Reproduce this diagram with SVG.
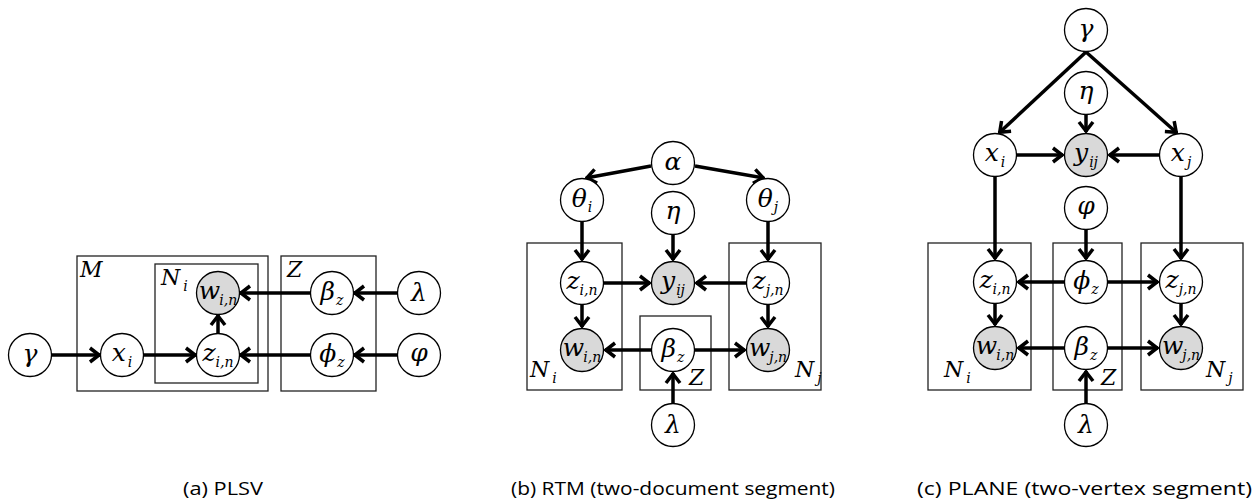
<svg xmlns="http://www.w3.org/2000/svg" width="1255" height="500" viewBox="0 0 1255 500">
<style>
.n{fill:#fff;stroke:#000;stroke-width:1.3}
.o{fill:#d9d9d9;stroke:#000;stroke-width:1.3}
.p{fill:none;stroke:#222;stroke-width:1.3}
.m{font-family:'DejaVu Serif',serif;font-style:italic;font-size:25px;fill:#000;text-anchor:middle}
.l{font-family:'DejaVu Serif',serif;font-style:italic;font-size:22px;fill:#000}
.s{font-size:14px}
.c{font-family:'Open Sans','Liberation Sans',sans-serif;font-size:18px;fill:#000}
.e{stroke:#000;stroke-width:3.5;fill:none;marker-end:url(#ah)}
</style>
<defs>
<marker id="ah" markerUnits="userSpaceOnUse" markerWidth="14" markerHeight="20" viewBox="-12 -10 14 20" refX="1" refY="0" orient="auto">
<path d="M-9,-7 L0,0 L-9,7" fill="none" stroke="#000" stroke-width="3.5"/>
</marker>
</defs>

<g id="plates">
<rect class="p" x="77" y="256" width="191" height="135"/>
<rect class="p" x="155" y="264" width="103" height="119"/>
<rect class="p" x="281" y="256" width="95" height="135"/>
<rect class="p" x="527" y="243" width="95" height="147"/>
<rect class="p" x="640" y="316" width="71" height="74"/>
<rect class="p" x="729" y="243" width="92" height="147"/>
<rect class="p" x="928" y="243" width="103" height="147"/>
<rect class="p" x="1053" y="243" width="69" height="147"/>
<rect class="p" x="1141" y="243" width="102" height="147"/>
<text class="l" x="80" y="277">M</text>
<text class="l" x="161" y="285">N<tspan class="s" dx="3" dy="6">i</tspan></text>
<text class="l" x="287" y="277">Z</text>
<text class="l" x="530" y="377">N<tspan class="s" dx="3" dy="6">i</tspan></text>
<text class="l" x="689" y="385">Z</text>
<text class="l" x="795" y="377">N<tspan class="s" dx="3" dy="6">j</tspan></text>
<text class="l" x="944" y="377">N<tspan class="s" dx="3" dy="6">i</tspan></text>
<text class="l" x="1101" y="385">Z</text>
<text class="l" x="1206" y="377">N<tspan class="s" dx="3" dy="6">j</tspan></text>
</g>

<g id="connectors">
<line class="e" x1="51" y1="355" x2="100" y2="355"/>
<line class="e" x1="143" y1="355" x2="196" y2="355"/>
<line class="e" x1="218" y1="334" x2="218" y2="315"/>
<line class="e" x1="311" y1="293" x2="240" y2="293"/>
<line class="e" x1="398" y1="293" x2="354" y2="293"/>
<line class="e" x1="311" y1="355" x2="240" y2="355"/>
<line class="e" x1="398" y1="355" x2="354" y2="355"/>

<line class="e" x1="651" y1="166" x2="586" y2="178"/>
<line class="e" x1="695" y1="166" x2="764" y2="178"/>
<line class="e" x1="582" y1="222" x2="582" y2="260"/>
<line class="e" x1="768" y1="222" x2="768" y2="260"/>
<line class="e" x1="673" y1="235" x2="673" y2="260"/>
<line class="e" x1="604" y1="283" x2="650" y2="283"/>
<line class="e" x1="746" y1="283" x2="696" y2="283"/>
<line class="e" x1="582" y1="305" x2="582" y2="327"/>
<line class="e" x1="768" y1="305" x2="768" y2="327"/>
<line class="e" x1="651" y1="350" x2="605" y2="350"/>
<line class="e" x1="695" y1="350" x2="745" y2="350"/>
<line class="e" x1="673" y1="403" x2="673" y2="373"/>

<line class="e" x1="1086" y1="52" x2="999" y2="133"/>
<line class="e" x1="1086" y1="52" x2="1177" y2="133"/>
<line class="e" x1="1086" y1="115" x2="1086" y2="132"/>
<line class="e" x1="1017" y1="155" x2="1063" y2="155"/>
<line class="e" x1="1159" y1="155" x2="1109" y2="155"/>
<line class="e" x1="995" y1="177" x2="995" y2="259"/>
<line class="e" x1="1181" y1="177" x2="1181" y2="259"/>
<line class="e" x1="1086" y1="230" x2="1086" y2="259"/>
<line class="e" x1="1064" y1="282" x2="1018" y2="282"/>
<line class="e" x1="1108" y1="282" x2="1158" y2="282"/>
<line class="e" x1="995" y1="304" x2="995" y2="325"/>
<line class="e" x1="1181" y1="304" x2="1181" y2="325"/>
<line class="e" x1="1064" y1="348" x2="1018" y2="348"/>
<line class="e" x1="1108" y1="348" x2="1158" y2="348"/>
<line class="e" x1="1086" y1="403" x2="1086" y2="371"/>
</g>

<g id="a-gamma"><circle class="n" cx="30" cy="355" r="21.5"/><text class="m" x="30" y="362">γ</text></g>
<g id="a-x"><circle class="n" cx="122" cy="355" r="21.5"/><text class="m" x="122" y="361">x<tspan class="s" dx="2" dy="6">i</tspan></text></g>
<g id="a-z"><circle class="n" cx="218" cy="355" r="21.5"/><text class="m" x="218" y="361">z<tspan class="s" dy="6">i,n</tspan></text></g>
<g id="a-w"><circle class="o" cx="218" cy="293" r="21.5"/><text class="m" x="218" y="299">w<tspan class="s" dx="-1" dy="6">i,n</tspan></text></g>
<g id="a-beta"><circle class="n" cx="332" cy="293" r="21.5"/><text class="m" x="332" y="300">β<tspan class="s" dx="1" dy="5">z</tspan></text></g>
<g id="a-phiz"><circle class="n" cx="332" cy="355" r="21.5"/><text class="m" x="332" y="362">ϕ<tspan class="s" dx="1" dy="5">z</tspan></text></g>
<g id="a-lambda"><circle class="n" cx="419" cy="293" r="21.5"/><text class="m" x="419" y="301">λ</text></g>
<g id="a-varphi"><circle class="n" cx="419" cy="355" r="21.5"/><text class="m" x="419" y="361">φ</text></g>

<g id="b-alpha"><circle class="n" cx="673" cy="163" r="21.5"/><text class="m" x="673" y="170">α</text></g>
<g id="b-thetai"><circle class="n" cx="582" cy="200" r="21.5"/><text class="m" x="582" y="207">θ<tspan class="s" dx="1" dy="5">i</tspan></text></g>
<g id="b-thetaj"><circle class="n" cx="768" cy="200" r="21.5"/><text class="m" x="768" y="207">θ<tspan class="s" dx="1" dy="5">j</tspan></text></g>
<g id="b-eta"><circle class="n" cx="673" cy="213" r="21.5"/><text class="m" x="673" y="219">η</text></g>
<g id="b-zi"><circle class="n" cx="582" cy="283" r="21.5"/><text class="m" x="582" y="289">z<tspan class="s" dy="6">i,n</tspan></text></g>
<g id="b-y"><circle class="o" cx="673" cy="283" r="21.5"/><text class="m" x="673" y="289">y<tspan class="s" dx="1" dy="6">ij</tspan></text></g>
<g id="b-zj"><circle class="n" cx="768" cy="283" r="21.5"/><text class="m" x="768" y="289">z<tspan class="s" dy="6">j,n</tspan></text></g>
<g id="b-wi"><circle class="o" cx="582" cy="350" r="21.5"/><text class="m" x="582" y="356">w<tspan class="s" dx="-1" dy="6">i,n</tspan></text></g>
<g id="b-beta"><circle class="n" cx="673" cy="350" r="21.5"/><text class="m" x="673" y="357">β<tspan class="s" dx="1" dy="5">z</tspan></text></g>
<g id="b-wj"><circle class="o" cx="768" cy="350" r="21.5"/><text class="m" x="768" y="356">w<tspan class="s" dx="-1" dy="6">j,n</tspan></text></g>
<g id="b-lambda"><circle class="n" cx="673" cy="425" r="21.5"/><text class="m" x="673" y="433">λ</text></g>

<g id="c-gamma"><circle class="n" cx="1086" cy="30" r="21.5"/><text class="m" x="1086" y="37">γ</text></g>
<g id="c-eta"><circle class="n" cx="1086" cy="93" r="21.5"/><text class="m" x="1086" y="99">η</text></g>
<g id="c-xi"><circle class="n" cx="995" cy="155" r="21.5"/><text class="m" x="995" y="161">x<tspan class="s" dx="2" dy="6">i</tspan></text></g>
<g id="c-y"><circle class="o" cx="1086" cy="155" r="21.5"/><text class="m" x="1086" y="161">y<tspan class="s" dx="1" dy="6">ij</tspan></text></g>
<g id="c-xj"><circle class="n" cx="1181" cy="155" r="21.5"/><text class="m" x="1181" y="161">x<tspan class="s" dx="2" dy="6">j</tspan></text></g>
<g id="c-varphi"><circle class="n" cx="1086" cy="208" r="21.5"/><text class="m" x="1086" y="214">φ</text></g>
<g id="c-zi"><circle class="n" cx="995" cy="282" r="21.5"/><text class="m" x="995" y="288">z<tspan class="s" dy="6">i,n</tspan></text></g>
<g id="c-phiz"><circle class="n" cx="1086" cy="282" r="21.5"/><text class="m" x="1086" y="289">ϕ<tspan class="s" dx="1" dy="5">z</tspan></text></g>
<g id="c-zj"><circle class="n" cx="1181" cy="282" r="21.5"/><text class="m" x="1181" y="288">z<tspan class="s" dy="6">j,n</tspan></text></g>
<g id="c-wi"><circle class="o" cx="995" cy="348" r="21.5"/><text class="m" x="995" y="354">w<tspan class="s" dx="-1" dy="6">i,n</tspan></text></g>
<g id="c-beta"><circle class="n" cx="1086" cy="348" r="21.5"/><text class="m" x="1086" y="355">β<tspan class="s" dx="1" dy="5">z</tspan></text></g>
<g id="c-wj"><circle class="o" cx="1181" cy="348" r="21.5"/><text class="m" x="1181" y="354">w<tspan class="s" dx="-1" dy="6">j,n</tspan></text></g>
<g id="c-lambda"><circle class="n" cx="1086" cy="425" r="21.5"/><text class="m" x="1086" y="433">λ</text></g>

<g id="captions">
<text class="c" x="183" y="495" textLength="80" lengthAdjust="spacingAndGlyphs">(a) PLSV</text>
<text class="c" x="511" y="495" textLength="324" lengthAdjust="spacingAndGlyphs">(b) RTM (two-document segment)</text>
<text class="c" x="917" y="495" textLength="335" lengthAdjust="spacingAndGlyphs">(c) PLANE (two-vertex segment)</text>
</g>
</svg>
